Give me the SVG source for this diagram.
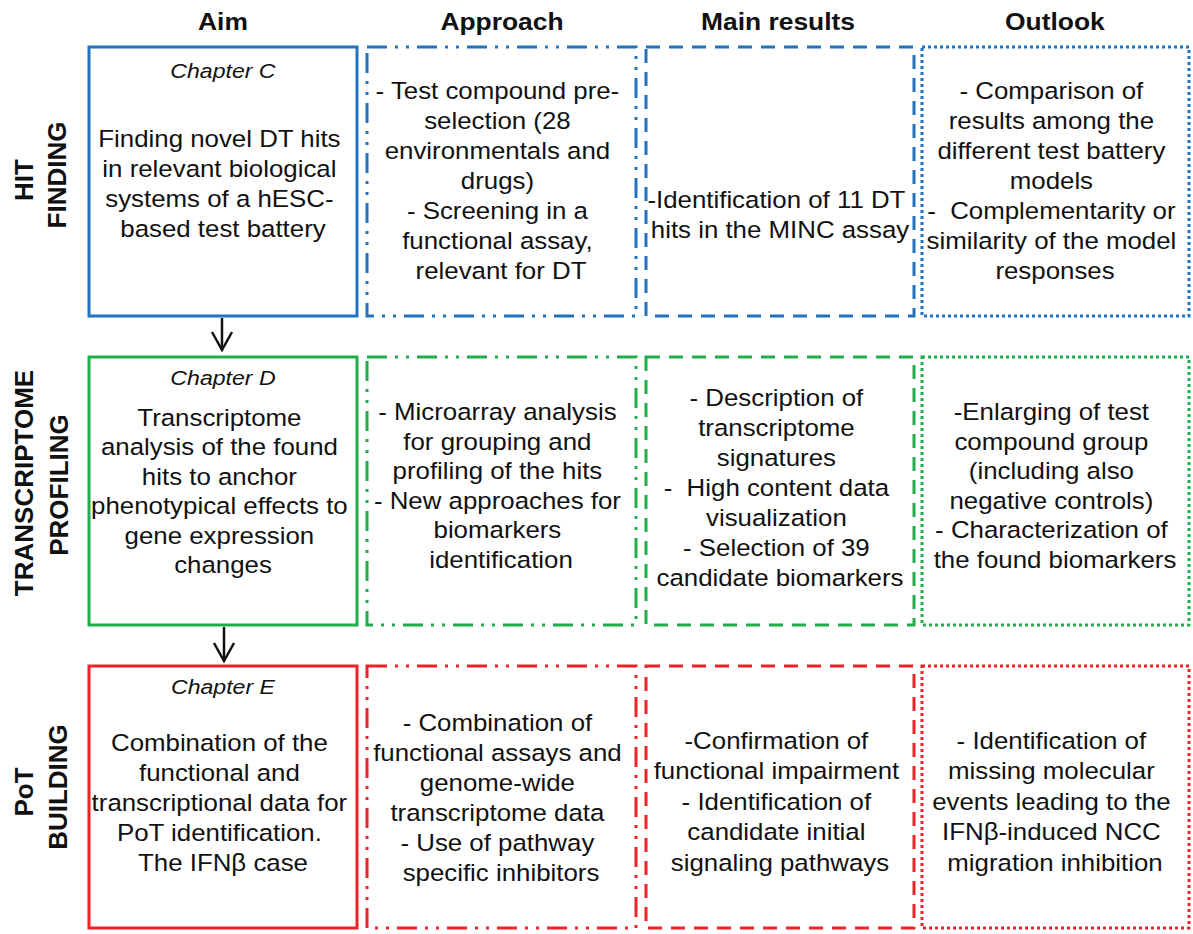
<svg xmlns="http://www.w3.org/2000/svg" width="1193" height="934" viewBox="0 0 1193 934">
  <style>
    .t { font-family: "Liberation Sans", Arial, sans-serif; font-size: 23.5px; fill: #111; text-anchor: middle; transform-box: fill-box; transform-origin: center; transform: scaleX(1.1); }
    .ch { font-style: italic; font-size: 21px; }
    .hd { font-weight: bold; font-size: 24px; }
    .row { font-family: "Liberation Sans", Arial, sans-serif; font-size: 26px; font-weight: bold; fill: #111; text-anchor: middle; }
    .box { fill: none; stroke-width: 3; }
    .dashdotdot { stroke-dasharray: 20 8 3 8 3 8; }
    .dash { stroke-dasharray: 14 9; }
    .dot { stroke-dasharray: 3 3; }
    .blue { stroke: #2272be; }
    .green { stroke: #22ad4b; }
    .red { stroke: #ee2229; }
    .arrow { stroke: #111; stroke-width: 2.5; fill: none; }
  </style>
  <defs>
    <marker id="chev" markerUnits="userSpaceOnUse" markerWidth="24" markerHeight="24" refX="20" refY="12" orient="auto">
      <path d="M2,2 L20,12 L2,22" fill="none" stroke="#111" stroke-width="2.5"/>
    </marker>
  </defs>

  <rect width="1193" height="934" fill="#fff"/>

  <!-- column headers -->
  <g id="headers">
    <text class="t hd" x="223" y="30">Aim</text>
    <text class="t hd" x="502" y="30">Approach</text>
    <text class="t hd" x="778" y="30">Main results</text>
    <text class="t hd" x="1055" y="30">Outlook</text>
  </g>

  <!-- row labels -->
  <g id="row-labels">
    <text class="row" transform="translate(33,180) rotate(-90)">HIT</text>
    <text class="row" transform="translate(66,175) rotate(-90)">FINDING</text>
    <text class="row" transform="translate(33,483) rotate(-90)">TRANSCRIPTOME</text>
    <text class="row" transform="translate(68,485) rotate(-90)">PROFILING</text>
    <text class="row" transform="translate(33,792) rotate(-90)">PoT</text>
    <text class="row" transform="translate(67,787) rotate(-90)">BUILDING</text>
  </g>

  <!-- row 1: hit finding -->
  <g id="aim-c">
    <rect class="box blue" x="89" y="47" width="268" height="269"/>
    <text class="t ch" x="223" y="78">Chapter C</text>
    <text class="t" x="223" y="147">
      <tspan x="223">Finding novel DT hits</tspan>
      <tspan x="223" dy="30">in relevant biological</tspan>
      <tspan x="223" dy="30">systems of a hESC-</tspan>
      <tspan x="223" dy="30">based test battery</tspan>
    </text>
  </g>
  <g id="approach-c">
    <rect class="box dashdotdot blue" x="367" y="47" width="269" height="269"/>
    <text class="t" x="501" y="99">
      <tspan x="501">- Test compound pre-</tspan>
      <tspan x="501" dy="30">selection (28</tspan>
      <tspan x="501" dy="30">environmentals and</tspan>
      <tspan x="501" dy="30">drugs)</tspan>
      <tspan x="501" dy="30">- Screening in a</tspan>
      <tspan x="501" dy="30">functional assay,</tspan>
      <tspan x="501" dy="30">relevant for DT</tspan>
    </text>
  </g>
  <g id="results-c">
    <rect class="box dash blue" x="646" y="47" width="268" height="269"/>
    <text class="t" x="780" y="208">
      <tspan x="780">-Identification of 11 DT</tspan>
      <tspan x="780" dy="30">hits in the MINC assay</tspan>
    </text>
  </g>
  <g id="outlook-c">
    <rect class="box dot blue" x="922" y="47" width="267" height="269"/>
    <text class="t" x="1055" y="99">
      <tspan x="1055">- Comparison of</tspan>
      <tspan x="1055" dy="30">results among the</tspan>
      <tspan x="1055" dy="30">different test battery</tspan>
      <tspan x="1055" dy="30">models</tspan>
      <tspan x="1055" dy="30">-&#160; Complementarity or</tspan>
      <tspan x="1055" dy="30">similarity of the model</tspan>
      <tspan x="1055" dy="30">responses</tspan>
    </text>
  </g>

  <!-- row 2: transcriptome profiling -->
  <g id="aim-d">
    <rect class="box green" x="89" y="357" width="268" height="268"/>
    <text class="t ch" x="223" y="385">Chapter D</text>
    <text class="t" x="223" y="426">
      <tspan x="223">Transcriptome</tspan>
      <tspan x="223" dy="29.5">analysis of the found</tspan>
      <tspan x="223" dy="29.5">hits to anchor</tspan>
      <tspan x="223" dy="29.5">phenotypical effects to</tspan>
      <tspan x="223" dy="29.5">gene expression</tspan>
      <tspan x="223" dy="29.5">changes</tspan>
    </text>
  </g>
  <g id="approach-d">
    <rect class="box dashdotdot green" x="367" y="357" width="269" height="268"/>
    <text class="t" x="501" y="420">
      <tspan x="501">- Microarray analysis</tspan>
      <tspan x="501" dy="29.6">for grouping and</tspan>
      <tspan x="501" dy="29.6">profiling of the hits</tspan>
      <tspan x="501" dy="29.6">- New approaches for</tspan>
      <tspan x="501" dy="29.6">biomarkers</tspan>
      <tspan x="501" dy="29.6">identification</tspan>
    </text>
  </g>
  <g id="results-d">
    <rect class="box dash green" x="646" y="357" width="268" height="268"/>
    <text class="t" x="780" y="406">
      <tspan x="780">- Description of</tspan>
      <tspan x="780" dy="30">transcriptome</tspan>
      <tspan x="780" dy="30">signatures</tspan>
      <tspan x="780" dy="30">-&#160; High content data</tspan>
      <tspan x="780" dy="30">visualization</tspan>
      <tspan x="780" dy="30">- Selection of 39</tspan>
      <tspan x="780" dy="30">candidate biomarkers</tspan>
    </text>
  </g>
  <g id="outlook-d">
    <rect class="box dot green" x="922" y="357" width="267" height="268"/>
    <text class="t" x="1055" y="420">
      <tspan x="1055">-Enlarging of test</tspan>
      <tspan x="1055" dy="29.6">compound group</tspan>
      <tspan x="1055" dy="29.6">(including also</tspan>
      <tspan x="1055" dy="29.6">negative controls)</tspan>
      <tspan x="1055" dy="29.6">- Characterization of</tspan>
      <tspan x="1055" dy="29.6">the found biomarkers</tspan>
    </text>
  </g>

  <!-- row 3: PoT building -->
  <g id="aim-e">
    <rect class="box red" x="89" y="666" width="268" height="262"/>
    <text class="t ch" x="223" y="694">Chapter E</text>
    <text class="t" x="223" y="751">
      <tspan x="223">Combination of the</tspan>
      <tspan x="223" dy="30">functional and</tspan>
      <tspan x="223" dy="30">transcriptional data for</tspan>
      <tspan x="223" dy="30">PoT identification.</tspan>
      <tspan x="223" dy="30">The IFNβ case</tspan>
    </text>
  </g>
  <g id="approach-e">
    <rect class="box dashdotdot red" x="367" y="666" width="269" height="262"/>
    <text class="t" x="501" y="731">
      <tspan x="501">- Combination of</tspan>
      <tspan x="501" dy="30">functional assays and</tspan>
      <tspan x="501" dy="30">genome-wide</tspan>
      <tspan x="501" dy="30">transcriptome data</tspan>
      <tspan x="501" dy="30">- Use of pathway</tspan>
      <tspan x="501" dy="30">specific inhibitors</tspan>
    </text>
  </g>
  <g id="results-e">
    <rect class="box dash red" x="646" y="666" width="268" height="262"/>
    <text class="t" x="780" y="749">
      <tspan x="780">-Confirmation of</tspan>
      <tspan x="780" dy="30.5">functional impairment</tspan>
      <tspan x="780" dy="30.5">- Identification of</tspan>
      <tspan x="780" dy="30.5">candidate initial</tspan>
      <tspan x="780" dy="30.5">signaling pathways</tspan>
    </text>
  </g>
  <g id="outlook-e">
    <rect class="box dot red" x="922" y="666" width="267" height="262"/>
    <text class="t" x="1055" y="749">
      <tspan x="1055">- Identification of</tspan>
      <tspan x="1055" dy="30.5">missing molecular</tspan>
      <tspan x="1055" dy="30.5">events leading to the</tspan>
      <tspan x="1055" dy="30.5">IFNβ-induced NCC</tspan>
      <tspan x="1055" dy="30.5">migration inhibition</tspan>
    </text>
  </g>

  <!-- connectors between chapters -->
  <g id="connectors">
    <line class="arrow" x1="222" y1="318" x2="222" y2="350" marker-end="url(#chev)"/>
    <line class="arrow" x1="224" y1="627" x2="224" y2="661" marker-end="url(#chev)"/>
  </g>
</svg>
